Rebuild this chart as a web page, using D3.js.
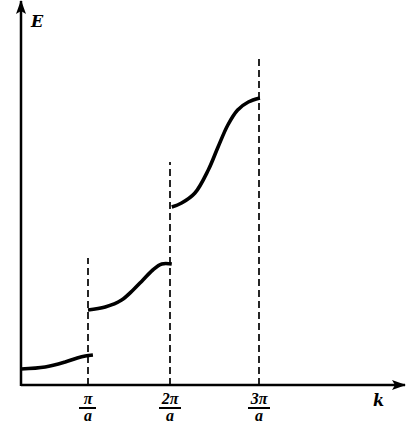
<!DOCTYPE html>
<html>
<head>
<meta charset="utf-8">
<script src="https://cdn.jsdelivr.net/npm/d3@7"></script>
<style>
  body { margin: 0; background: #fff; }
  svg text { font-family: "DejaVu Serif", "Liberation Serif", serif; font-weight: bold; font-style: italic; fill: #000; }
  svg .tick text { font-family: "Liberation Serif", "DejaVu Serif", serif; }
</style>
</head>
<body>
<div id="chart"></div>
<script>
// k in units of pi/a, E in arbitrary units
var band1 = [[0, 1.6], [0.36, 1.8], [0.66, 2.3], [0.84, 2.7], [0.96, 2.9], [1.06, 3.0]];
var band2 = [[1.0, 7.5], [1.21, 7.8], [1.41, 8.5], [1.55, 9.5], [1.67, 10.5], [1.79, 11.5], [1.90, 12.1], [2.02, 12.1]];
var band3 = [[2.02, 17.8], [2.13, 18.2], [2.28, 19.2], [2.43, 21.5], [2.54, 23.8], [2.65, 26.0], [2.76, 27.5], [2.88, 28.3], [3.01, 28.7]];
var zoneK = [1, 2, 3];
var zoneTop = [12.7, 22.3, 32.8];
var tickNum = ["\u03c0", "2\u03c0", "3\u03c0"];
var tickDen = ["a", "a", "a"];

var width = 414, height = 431;

// the drawing is not quite evenly spaced, so the scale is piecewise
var x = d3.scaleLinear().domain([0, 1, 2, 3, 4.64]).range([21, 88, 170, 259, 405]);
var y = d3.scaleLinear().domain([0, 38.4]).range([385, 1]);

var svg = d3.select("#chart").append("svg")
  .attr("width", width).attr("height", height);

svg.append("defs").append("marker")
  .attr("id", "arrow")
  .attr("viewBox", "0 0 14 10")
  .attr("refX", 13).attr("refY", 5)
  .attr("markerWidth", 14).attr("markerHeight", 10)
  .attr("markerUnits", "userSpaceOnUse")
  .attr("orient", "auto")
  .append("path").attr("d", "M0,0 L14,5 L0,10 L3,5 Z").attr("fill", "#000");

// axes
svg.append("line")
  .attr("x1", x(0)).attr("y1", y(0)).attr("x2", x(4.64)).attr("y2", y(0))
  .attr("stroke", "#000").attr("stroke-width", 2.5).attr("marker-end", "url(#arrow)");
svg.append("line")
  .attr("x1", x(0)).attr("y1", y(0) + 1).attr("x2", x(0)).attr("y2", y(38.4))
  .attr("stroke", "#000").attr("stroke-width", 2.5).attr("marker-end", "url(#arrow)");

// zone boundaries
svg.selectAll(".zone").data(zoneK).enter().append("line")
  .attr("class", "zone")
  .attr("x1", function (d) { return x(d); }).attr("x2", function (d) { return x(d); })
  .attr("y1", y(0)).attr("y2", function (d, i) { return y(zoneTop[i]); })
  .attr("stroke", "#000").attr("stroke-width", 1.7).attr("stroke-dasharray", "7,4");

// bands
var line = d3.line()
  .x(function (d) { return x(d[0]); })
  .y(function (d) { return y(d[1]); })
  .curve(d3.curveCatmullRom.alpha(0.5));

svg.selectAll(".band").data([band1, band2, band3]).enter().append("path")
  .attr("class", "band")
  .attr("d", line)
  .attr("fill", "none").attr("stroke", "#000").attr("stroke-width", 3.6);

// tick labels as fractions
var ticks = svg.selectAll(".tick").data(zoneK).enter().append("g")
  .attr("class", "tick")
  .attr("transform", function (d) { return "translate(" + x(d) + ",0)"; });
ticks.append("text")
  .attr("y", 404).attr("text-anchor", "middle").attr("font-size", 16)
  .text(function (d, i) { return tickNum[i]; });
ticks.append("line")
  .attr("x1", function (d, i) { return i == 0 ? -9 : -11; })
  .attr("x2", function (d, i) { return i == 0 ? 8 : 11; })
  .attr("y1", 408).attr("y2", 408)
  .attr("stroke", "#000").attr("stroke-width", 2);
ticks.append("text")
  .attr("y", 421).attr("text-anchor", "middle").attr("font-size", 16)
  .text(function (d, i) { return tickDen[i]; });

// axis names
svg.append("text").attr("x", 31).attr("y", 27).attr("font-size", 16).text("E");
svg.append("text").attr("x", 373).attr("y", 406).attr("font-size", 16).text("k");
</script>
</body>
</html>
